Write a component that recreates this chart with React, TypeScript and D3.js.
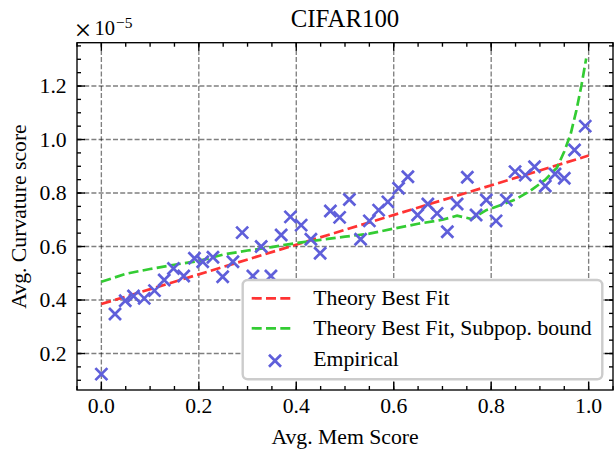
import React from "react";
import * as d3 from "d3";

const memX = [0, 0.028, 0.049, 0.066, 0.088, 0.109, 0.129, 0.148, 0.169, 0.191, 0.208, 0.229, 0.249, 0.270, 0.289, 0.311, 0.328, 0.348, 0.369, 0.388, 0.410, 0.430, 0.449, 0.470, 0.489, 0.509, 0.532, 0.550, 0.569, 0.588, 0.610, 0.629, 0.649, 0.670, 0.689, 0.710, 0.730, 0.751, 0.769, 0.790, 0.810, 0.831, 0.849, 0.870, 0.889, 0.911, 0.931, 0.950, 0.971, 0.993];
const curvY = [0.123, 0.348, 0.397, 0.415, 0.406, 0.435, 0.475, 0.518, 0.490, 0.556, 0.543, 0.560, 0.487, 0.543, 0.652, 0.490, 0.600, 0.490, 0.643, 0.711, 0.680, 0.627, 0.575, 0.733, 0.709, 0.776, 0.627, 0.696, 0.736, 0.767, 0.818, 0.861, 0.718, 0.759, 0.724, 0.655, 0.759, 0.859, 0.718, 0.774, 0.696, 0.774, 0.880, 0.867, 0.898, 0.826, 0.871, 0.855, 0.961, 1.050];

const fitX = [0, 1];
const fitY = [0.385, 0.940];

const subX = [0, 0.05, 0.1, 0.15, 0.2, 0.25, 0.3, 0.35, 0.4, 0.45, 0.5, 0.55, 0.6, 0.65, 0.7, 0.73, 0.76, 0.79, 0.82, 0.85, 0.88, 0.91, 0.935, 0.95, 0.963, 0.975, 0.985, 0.995];
const subY = [0.468, 0.498, 0.516, 0.532, 0.546, 0.570, 0.585, 0.598, 0.613, 0.625, 0.637, 0.648, 0.667, 0.685, 0.700, 0.715, 0.703, 0.736, 0.755, 0.776, 0.808, 0.848, 0.895, 0.955, 1.020, 1.110, 1.200, 1.303];

const xTicks = [0, 0.2, 0.4, 0.6, 0.8, 1.0];
const xTickLabels = ["0.0", "0.2", "0.4", "0.6", "0.8", "1.0"];
const yTicks = [0.2, 0.4, 0.6, 0.8, 1.0, 1.2];
const yTickLabels = ["0.2", "0.4", "0.6", "0.8", "1.0", "1.2"];

const legendLabels = ["Theory Best Fit", "Theory Best Fit, Subpop. bound", "Empirical"];

const W = 615, H = 456;
const L = 77, R = 613, T = 42.7, B = 390;
const FONT = "'Liberation Serif', 'DejaVu Serif', serif";
const RED = "#ff3333";
const GREEN = "#33cc33";
const BLUE = "rgb(95,95,218)";
const FS = 21.7;

export default function App() {
  const x = d3.scaleLinear().domain([-0.05, 1.05]).range([L, R]);
  const y = d3.scaleLinear().domain([0.0636, 1.362]).range([B, T]);

  const xMinor = d3.range(-0.05, 1.0501, 0.05);
  const yMinor = d3.range(0.1, 1.36, 0.05);

  const lineGen = d3.line<[number, number]>().x((d) => x(d[0])).y((d) => y(d[1]));
  const fitPath = lineGen(fitX.map((v, i) => [v, fitY[i]] as [number, number]));
  const subPath = lineGen(subX.map((v, i) => [v, subY[i]] as [number, number]));

  const ms = 6;
  const cross = (cx: number, cy: number, key: string) => (
    <path key={key} d={`M${cx - ms},${cy - ms}L${cx + ms},${cy + ms}M${cx - ms},${cy + ms}L${cx + ms},${cy - ms}`} stroke={BLUE} strokeWidth={2.7} fill="none" />
  );

  const gridStyle = { stroke: "rgba(0,0,0,0.5)", strokeWidth: 1.35, strokeDasharray: "5,2.2" };

  const lgX = 242.7, lgY = 280, lgW = 359.6, lgH = 99.3;

  return (
    <svg width={W} height={H} style={{ position: "absolute", left: 0, top: 0, background: "#fff" }} fontFamily={FONT}>
      <rect x={0} y={0} width={W} height={H} fill="#fff" />
      <defs>
        <clipPath id="plotclip">
          <rect x={L} y={T} width={R - L} height={B - T} />
        </clipPath>
      </defs>
      {xTicks.map((v, i) => (
        <line key={"gx" + i} x1={x(v)} x2={x(v)} y1={T} y2={B} {...gridStyle} />
      ))}
      {yTicks.map((v, i) => (
        <line key={"gy" + i} x1={L} x2={R} y1={y(v)} y2={y(v)} {...gridStyle} />
      ))}
      <g clipPath="url(#plotclip)">
        <path d={fitPath || ""} stroke={RED} strokeWidth={2.7} fill="none" strokeDasharray="10,4.3" />
        <path d={subPath || ""} stroke={GREEN} strokeWidth={2.7} fill="none" strokeDasharray="10,4.3" />
        {memX.map((v, i) => cross(x(v), y(curvY[i]), "m" + i))}
      </g>
      {xMinor.map((v, i) => (
        <g key={"xm" + i}>
          <line x1={x(v)} x2={x(v)} y1={B} y2={B - 4} stroke="#000" strokeWidth={1.35} />
          <line x1={x(v)} x2={x(v)} y1={T} y2={T + 4} stroke="#000" strokeWidth={1.35} />
        </g>
      ))}
      {yMinor.map((v, i) => (
        <g key={"ym" + i}>
          <line x1={L} x2={L + 4} y1={y(v)} y2={y(v)} stroke="#000" strokeWidth={1.35} />
          <line x1={R} x2={R - 4} y1={y(v)} y2={y(v)} stroke="#000" strokeWidth={1.35} />
        </g>
      ))}
      {xTicks.map((v, i) => (
        <g key={"xt" + i}>
          <line x1={x(v)} x2={x(v)} y1={B} y2={B - 8} stroke="#000" strokeWidth={1.35} />
          <line x1={x(v)} x2={x(v)} y1={T} y2={T + 8} stroke="#000" strokeWidth={1.35} />
          <text x={x(v)} y={413.3} fontSize={FS} textAnchor="middle" fill="#000">{xTickLabels[i]}</text>
        </g>
      ))}
      {yTicks.map((v, i) => (
        <g key={"yt" + i}>
          <line x1={L} x2={L + 8} y1={y(v)} y2={y(v)} stroke="#000" strokeWidth={1.35} />
          <line x1={R} x2={R - 8} y1={y(v)} y2={y(v)} stroke="#000" strokeWidth={1.35} />
          <text x={66.7} y={y(v) + 7.4} fontSize={FS} textAnchor="end" fill="#000">{yTickLabels[i]}</text>
        </g>
      ))}
      <rect x={L} y={T} width={R - L} height={B - T} fill="none" stroke="#000" strokeWidth={1.35} />
      <rect x={lgX} y={lgY} width={lgW} height={lgH} rx={5} ry={5} fill="#fff" stroke="#cccccc" strokeWidth={2.4} />
      <line x1={251.7} x2={291.7} y1={298.3} y2={298.3} stroke={RED} strokeWidth={2.7} strokeDasharray="10,4.3" />
      <line x1={251.7} x2={291.7} y1={328.3} y2={328.3} stroke={GREEN} strokeWidth={2.7} strokeDasharray="10,4.3" />
      {cross(275, 360.7, "lgm")}
      <text x={313.3} y={304.6} fontSize={FS} fill="#000">{legendLabels[0]}</text>
      <text x={313.3} y={334.6} fontSize={FS} fill="#000">{legendLabels[1]}</text>
      <text x={313.3} y={366.3} fontSize={FS} fill="#000">{legendLabels[2]}</text>
      <text x={345} y={27.3} fontSize={24.8} textAnchor="middle" fill="#000">CIFAR100</text>
      <text x={345} y={444} fontSize={FS} textAnchor="middle" fill="#000">Avg. Mem Score</text>
      <text transform={`translate(25.5,216.5) rotate(-90)`} fontSize={FS} textAnchor="middle" fill="#000">Avg. Curvature score</text>
      <text x={74.5} y={39.5} fontSize={30} fill="#000">×</text>
      <text x={94.5} y={35} fontSize={20.5} fill="#000">10</text>
      <text x={116} y={27.5} fontSize={15.5} fill="#000">−5</text>
    </svg>
  );
}
